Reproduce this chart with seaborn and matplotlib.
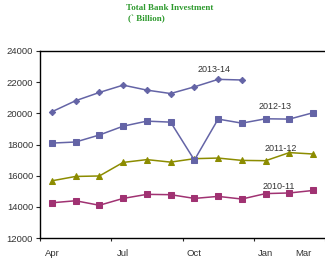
import matplotlib
matplotlib.use("Agg")
import matplotlib.pyplot as plt
import seaborn as sns
import pandas as pd

months = ["Apr", "May", "Jun", "Jul", "Aug", "Sep", "Oct", "Nov", "Dec", "Jan", "Feb", "Mar"]
fy_2010_11 = [14260, 14390, 14100, 14540, 14800, 14780, 14540, 14670, 14500, 14850, 14890, 15050]
fy_2011_12 = [15670, 15950, 15980, 16850, 17030, 16870, 17090, 17130, 16980, 16960, 17480, 17390]
fy_2012_13 = [18090, 18160, 18610, 19175, 19500, 19435, 17000, 19630, 19370, 19650, 19630, 20040]
fy_2013_14 = [20100, 20810, 21340, 21810, 21490, 21270, 21700, 22180, 22140]
tick_labels = ["Apr", "Jul", "Oct", "Jan", "Mar"]

sns.set_style("white")
plt.rcParams["font.family"] = ["Liberation Sans", "DejaVu Sans"]

series = {
    "2010-11": (fy_2010_11, "#a03272", "s"),
    "2011-12": (fy_2011_12, "#8c8c00", "^"),
    "2012-13": (fy_2012_13, "#6464a6", "s"),
    "2013-14": (fy_2013_14, "#6464a6", "D"),
}

fig = plt.figure(figsize=(3.25, 2.58), dpi=100)
ax = fig.add_axes([40 / 325, 1 - 238 / 258, 1 - 40 / 325, 187 / 258])

for name, (vals, color, marker) in series.items():
    df = pd.DataFrame({"m": range(len(vals)), "v": vals})
    sns.lineplot(data=df, x="m", y="v", ax=ax, color=color, marker=marker,
                 markersize=4.5 if marker != "D" else 3.2, linewidth=1.1,
                 markeredgecolor=color, markerfacecolor=color)

label_pos = {"2013-14": (6.85, 22800), "2012-13": (9.4, 20450),
             "2011-12": (9.65, 17760), "2010-11": (9.55, 15320)}
for name, (x, y) in label_pos.items():
    ax.text(x, y, name, fontsize=6.5, color="#333333", ha="center", va="center")

ax.set_xlim(-0.5, 11.5)
ax.set_ylim(12000, 24000)
ax.set_yticks(range(12000, 24001, 2000))
ax.tick_params(axis="y", labelsize=6.8, labelcolor="#333333", length=3, width=0.8, pad=2, left=True)
ax.set_xticks([0, 3, 6, 9, 10.6])
ax.set_xticklabels(tick_labels)
ax.set_xticks([-0.5, 2.5, 5.5, 8.5, 11.5], minor=True)
ax.tick_params(axis="x", which="major", length=0, labelsize=6.8, labelcolor="#333333", pad=8)
ax.tick_params(axis="x", which="minor", length=2.5, width=0.8, bottom=True)
ax.set_xlabel("")
ax.set_ylabel("")

for side in ["left", "bottom", "top"]:
    ax.spines[side].set_visible(True)
    ax.spines[side].set_color("black")
    ax.spines[side].set_linewidth(1.0)
ax.spines["right"].set_visible(False)

fig.text(126 / 325, 1 - 8 / 258, "Total Bank Investment", fontsize=6.5, fontweight="bold",
         color="#2e9a2e", family="Liberation Serif", ha="left", va="center")
fig.text(128 / 325, 1 - 19 / 258, "(` Billion)", fontsize=6.5, fontweight="bold",
         color="#2e9a2e", family="Liberation Serif", ha="left", va="center")

fig.savefig("out.png", dpi=100)
